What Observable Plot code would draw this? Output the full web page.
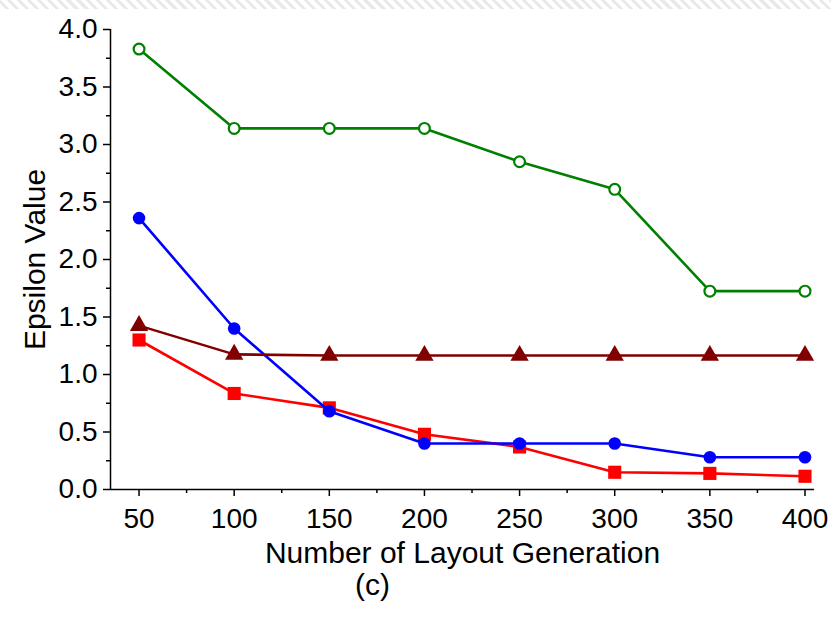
<!DOCTYPE html>
<html>
<head>
<meta charset="utf-8">
<script src="https://cdn.jsdelivr.net/npm/d3@7"></script>
<script src="https://cdn.jsdelivr.net/npm/@observablehq/plot@0.6"></script>
<style>
  html, body { margin: 0; padding: 0; background: #fff; }
  #wrap { position: relative; width: 831px; height: 618px; overflow: hidden; font-family: "Liberation Sans", Arial, sans-serif; }
  #band { position: absolute; left: 0; top: 0; width: 831px; height: 9px;
    background: repeating-linear-gradient(45deg, #fff 0 4px, #e9e9e9 4px 7px); }
  #chart { position: absolute; left: 0; top: 0; }
</style>
</head>
<body>
<div id="wrap">
  <div id="band"></div>
  <div id="chart"></div>
</div>
<script>
// Number of layout generations on the x axis
const generations = [50, 100, 150, 200, 250, 300, 350, 400];

// Epsilon value of each method per generation count
const greenOpen   = [3.83, 3.14, 3.14, 3.14, 2.85, 2.61, 1.725, 1.725];
const blueFilled  = [2.36, 1.40, 0.68, 0.40, 0.40, 0.40, 0.28, 0.28];
const darkRedTri  = [1.425, 1.175, 1.165, 1.165, 1.165, 1.165, 1.165, 1.165];
const redSquare   = [1.30, 0.835, 0.71, 0.48, 0.37, 0.15, 0.14, 0.115];

// Axis ticks
const yMajor = d3.range(0, 4.001, 0.5);
const yMinor = d3.range(0.25, 4, 0.5);
const xMajor = generations;
const xMinor = d3.range(75, 400, 50);

const rows = vals => generations.map((g, i) => ({g, v: vals[i]}));

const series = [
  {vals: redSquare,  color: "#ff0000", symbol: "square",   r: 7.4, fill: "#ff0000"},
  {vals: blueFilled, color: "#0000ff", symbol: "circle",   r: 6.3, fill: "#0000ff"},
  {vals: darkRedTri, color: "#800000", symbol: "triangle", r: 6.8, fill: "#800000"},
  {vals: greenOpen,  color: "#008000", symbol: "circle",   r: 5.4, fill: "#ffffff"}
];

const marks = [];
for (const s of series) {
  const data = rows(s.vals);
  marks.push(Plot.line(data, {x: "g", y: "v", stroke: s.color, strokeWidth: 2.6}));
  marks.push(Plot.dot(data, {x: "g", y: "v", symbol: s.symbol, r: s.r, fill: s.fill,
    stroke: s.fill === "#ffffff" ? s.color : "none", strokeWidth: 2.2}));
}

const chart = Plot.plot({
  width: 831,
  height: 618,
  marginLeft: 110,
  marginRight: 17,
  marginTop: 29,
  marginBottom: 129,
  style: {fontFamily: "'Liberation Sans', Arial, sans-serif", background: "transparent", color: "#000"},
  x: {domain: [35, 405]},
  y: {domain: [0, 4]},
  marks: [
    Plot.axisY(yMajor, {tickSize: 7, tickPadding: 6, fontSize: 28, tickFormat: d3.format(".1f"), label: null, strokeWidth: 1.5}),
    Plot.axisY(yMinor, {tickSize: 4, text: null, label: null, strokeWidth: 1.5}),
    Plot.axisX(xMajor, {tickSize: 7, tickPadding: 12, fontSize: 28, tickFormat: d3.format("d"), label: null, strokeWidth: 1.5}),
    Plot.axisX(xMinor, {tickSize: 4, text: null, label: null, strokeWidth: 1.5}),
    Plot.ruleX([35], {strokeWidth: 1.5}),
    Plot.ruleY([0], {strokeWidth: 1.5}),
    ...marks,
    Plot.text(["Epsilon Value"], {frameAnchor: "left", rotate: -90, dx: -75, fontSize: 30, textAnchor: "middle", lineAnchor: "middle"}),
    Plot.text(["Number of Layout Generation"], {frameAnchor: "bottom", dy: 64, fontSize: 30, textAnchor: "middle", lineAnchor: "middle"}),
    Plot.text(["(c)"], {frameAnchor: "bottom", dx: -90, dy: 96, fontSize: 30, textAnchor: "middle", lineAnchor: "middle"})
  ]
});
document.getElementById("chart").appendChild(chart);
</script>
</body>
</html>
